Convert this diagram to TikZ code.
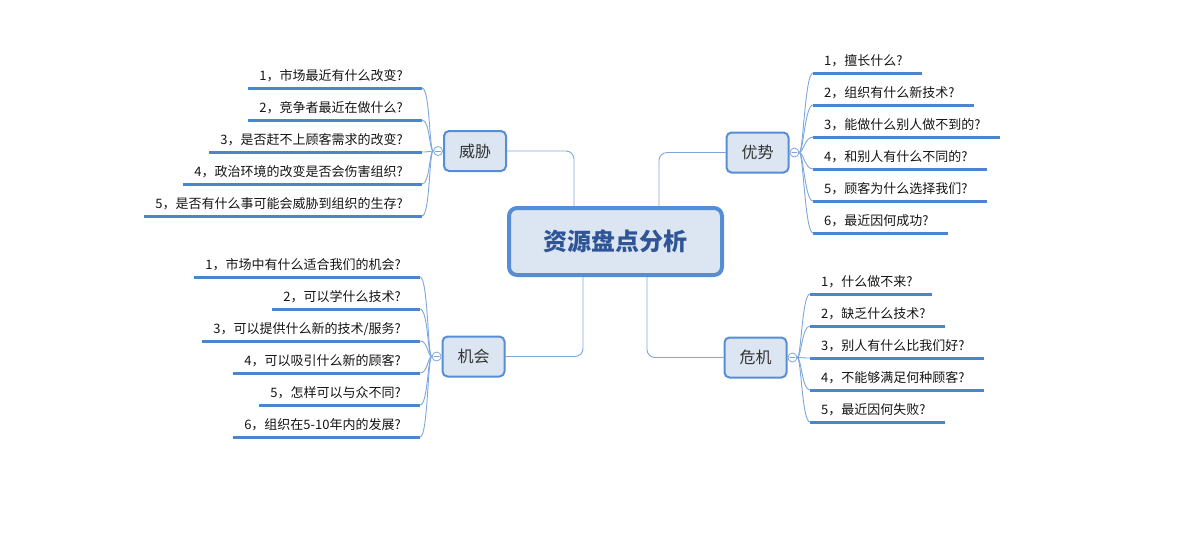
\documentclass[tikz,border=0pt]{standalone}
\usepackage{fontspec}
\setmainfont{Noto Sans CJK SC}
\usetikzlibrary{positioning,backgrounds}
\definecolor{boxfill}{HTML}{DCE6F2}
\definecolor{boxdraw}{HTML}{558ED5}
\definecolor{linkcol}{HTML}{7EA6DC}
\definecolor{leafblue}{HTML}{4A86CF}
\definecolor{roottext}{HTML}{2F5597}
\definecolor{branchtext}{HTML}{333333}
\definecolor{leaftext}{HTML}{141414}
\begin{document}
\begin{tikzpicture}[line cap=round,line join=round,x=1pt,y=-1pt,
	root/.style={draw=boxdraw, line width=4pt, fill=boxfill, rounded corners=8pt,
		minimum width=213pt, minimum height=67pt, text=roottext,
		font=\fontsize{24}{28}\selectfont\bfseries},
	branch/.style={draw=boxdraw, line width=2pt, fill=boxfill, rounded corners=5pt,
		minimum width=62pt, minimum height=40pt, text=branchtext,
		font=\fontsize{16}{19}\selectfont},
	fold/.style={circle, draw=linkcol, fill=white, line width=0.8pt,
		minimum size=9pt, inner sep=0pt},
	link/.style={draw=linkcol, line width=0.9pt, rounded corners=8pt},
	curve/.style={draw=linkcol, line width=0.9pt},
	leaf/.style={inner xsep=11pt, inner ysep=7pt, text depth=0pt, text=leaftext,
		font=\fontsize{13}{15}\selectfont},
	leafline/.style={draw=leafblue, line width=3pt, line cap=butt}]
	\useasboundingbox (0,0) rectangle (1200,550);
	% 中心主题与四个分支
	\node[root] (root) at (615.5,241.5) {资源盘点分析};
	\node[branch] (weixie) at (475,151) {威胁};
	\node[branch] (youshi) at (757.5,152.5) {优势};
	\node[branch] (jihui) at (473.5,356.5) {机会};
	\node[branch] (weiji) at (755.5,357.5) {危机};
	% 折叠按钮
	\node[fold, left=0pt of weixie] (fT) {};
	\node[fold, right=0pt of youshi] (fY) {};
	\node[fold, left=0pt of jihui] (fJ) {};
	\node[fold, right=0pt of weiji] (fW) {};
	\foreach \f in {fT, fY, fJ, fW} {
		\draw[linkcol, line width=0.8pt] ([xshift=2.3pt]\f.west) -- ([xshift=-2.3pt]\f.east);
	}
	% 主题到分支的连线
	\begin{scope}[on background layer]
		\draw[link] (weixie.east) -| ([xshift=-41.5pt]root.north);
		\draw[link] ([xshift=43.5pt]root.north) |- (youshi.west);
		\draw[link] ([xshift=-32.5pt]root.south) |- (jihui.east);
		\draw[link] ([xshift=31.5pt]root.south) |- (weiji.west);
	\end{scope}
	% 威胁
	\foreach \t [count=\i] in {1，市场最近有什么改变?, 2，竞争者最近在做什么?,
		3，是否赶不上顾客需求的改变?, 4，政治环境的改变是否会伤害组织?,
		5，是否有什么事可能会威胁到组织的生存?} {
		\node[leaf, anchor=south east] (T\i) at (422,{152+32*(\i-3)}) {\t\kern8pt};
		\draw[leafline] (T\i.south west) -- (T\i.south east);
		\draw[curve] (T\i.south east) .. controls +(8,0) and +(-4,0) .. (fT.west);
	}
	% 优势
	\foreach \t [count=\i] in {1，擅长什么?, 2，组织有什么新技术?,
		3，能做什么别人做不到的?, 4，和别人有什么不同的?,
		5，顾客为什么选择我们?, 6，最近因何成功?} {
		\node[leaf, anchor=south west] (Y\i) at (813,{153+32*(\i-3.5)}) {\t\kern8pt};
		\draw[leafline] (Y\i.south west) -- (Y\i.south east);
		\draw[curve] (fY.east) .. controls +(4,0) and +(-8,0) .. (Y\i.south west);
	}
	% 机会
	\foreach \t [count=\i] in {1，市场中有什么适合我们的机会?, 2，可以学什么技术?,
		3，可以提供什么新的技术/服务?, 4，可以吸引什么新的顾客?,
		5，怎样可以与众不同?, 6，组织在5-10年内的发展?} {
		\node[leaf, anchor=south east] (J\i) at (420,{357+32*(\i-3.5)}) {\t\kern8pt};
		\draw[leafline] (J\i.south west) -- (J\i.south east);
		\draw[curve] (J\i.south east) .. controls +(8,0) and +(-4,0) .. (fJ.west);
	}
	% 危机
	\foreach \t [count=\i] in {1，什么做不来?, 2，缺乏什么技术?,
		3，别人有什么比我们好?, 4，不能够满足何种顾客?, 5，最近因何失败?} {
		\node[leaf, anchor=south west] (W\i) at (810,{358+32*(\i-3)}) {\t\kern8pt};
		\draw[leafline] (W\i.south west) -- (W\i.south east);
		\draw[curve] (fW.east) .. controls +(4,0) and +(-8,0) .. (W\i.south west);
	}
\end{tikzpicture}
\end{document}
